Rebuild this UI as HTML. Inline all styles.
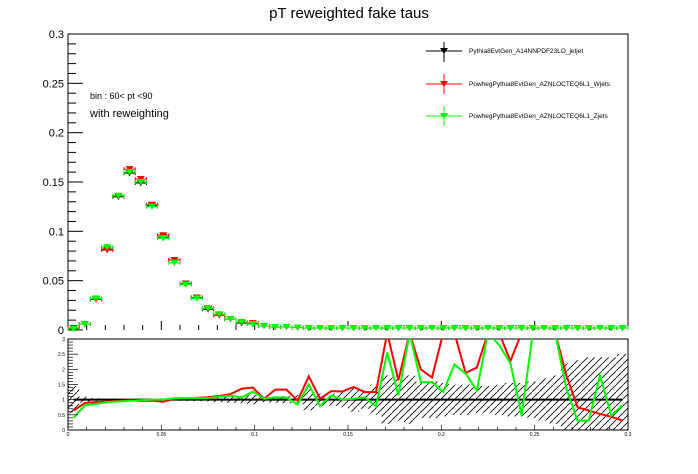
<!DOCTYPE html>
<html><head><meta charset="utf-8"><style>
html,body{margin:0;padding:0;background:#fff;width:698px;height:474px;overflow:hidden}
svg{display:block;font-family:"Liberation Sans",sans-serif}
</style></head><body>
<svg id="c" width="698" height="474" viewBox="0 0 698 474">
<defs><pattern id="hatch" patternUnits="userSpaceOnUse" width="7" height="7"><path d="M0,7 L7,0" stroke="#000" stroke-width="0.8"/></pattern></defs>
<text x="349" y="18" font-size="15" text-anchor="middle">pT reweighted fake taus</text>
<g id="main"></g>
<g id="ratio"></g>
<g>
 <g><line x1="426" y1="51" x2="462" y2="51" stroke="#000"/><line x1="444" y1="42" x2="444" y2="62" stroke="#000"/><path d="M440,48 L448,48 L444,54Z" fill="#000"/><text x="469" y="53" font-size="6.5">Pythia8EvtGen_A14NNPDF23LO_jetjet</text></g>
 <g><line x1="426" y1="84" x2="462" y2="84" stroke="#f00"/><line x1="444" y1="74" x2="444" y2="94" stroke="#f00"/><path d="M440,81 L448,81 L444,87Z" fill="#f00"/><text x="469" y="86" font-size="6.5">PowhegPythia8EvtGen_AZNLOCTEQ6L1_Wjets</text></g>
 <g><line x1="426" y1="116" x2="462" y2="116" stroke="#0f0"/><line x1="444" y1="106" x2="444" y2="126" stroke="#0f0"/><path d="M440,113 L448,113 L444,119Z" fill="#0f0"/><text x="469" y="118" font-size="6.5">PowhegPythia8EvtGen_AZNLOCTEQ6L1_Zjets</text></g>
</g>
<text x="90" y="99" font-size="9">bin : 60&lt; pt &lt;90</text>
<text x="90" y="117" font-size="11">with reweighting</text>
</svg>
<script>
const jetjet=[0.002,0.006,0.031,0.082,0.135,0.159,0.149,0.126,0.094,0.071,0.047,0.033,0.021,0.015,0.011,0.007,0.006,0.004,0.003,0.003,0.0025,0.002,0.002,0.002,0.002,0.002,0.002,0.002,0.002,0.002,0.002,0.002,0.002,0.002,0.002,0.002,0.002,0.002,0.002,0.002,0.002,0.002,0.002,0.002,0.002,0.002,0.002,0.002,0.002,0.002];
const wjetsMain=[0.002,0.006,0.031,0.081,0.136,0.163,0.153,0.127,0.096,0.071,0.047,0.033,0.022,0.015,0.011,0.008,0.007,0.004,0.003,0.003,0.0025,0.002,0.002,0.002,0.002,0.002,0.002,0.002,0.002,0.002,0.002,0.002,0.002,0.002,0.002,0.002,0.002,0.002,0.002,0.002,0.002,0.002,0.002,0.002,0.002,0.002,0.002,0.002,0.002,0.002];
const zjetsMain=[0.001,0.006,0.032,0.084,0.136,0.160,0.150,0.125,0.093,0.068,0.046,0.032,0.022,0.016,0.011,0.008,0.006,0.004,0.003,0.003,0.0025,0.002,0.002,0.002,0.002,0.002,0.002,0.002,0.002,0.002,0.002,0.002,0.002,0.002,0.002,0.002,0.002,0.002,0.002,0.002,0.002,0.002,0.002,0.002,0.002,0.002,0.002,0.002,0.002,0.002];
const wjets=[0.64,0.89,0.92,0.94,0.96,0.98,0.96,0.97,0.93,1.03,1.05,1.06,1.08,1.12,1.18,1.36,1.4,1.03,1.33,1.33,0.97,1.77,1.03,1.28,1.27,1.42,1.25,1.25,3.5,1.64,3.5,2.0,1.73,3.5,3.5,1.88,2.06,3.5,3.5,2.27,3.5,3.5,3.5,3.5,1.8,0.75,0.64,0.53,0.44,0.31];
const zjets=[0.4,0.81,0.86,0.92,0.94,0.96,0.98,1.0,1.0,1.05,1.05,1.05,1.05,1.1,1.13,1.07,1.27,1.03,1.08,1.07,0.84,1.5,0.79,1.14,1.0,1.03,1.08,0.78,2.56,1.14,3.5,1.58,1.58,1.25,2.16,1.86,1.3,3.5,2.8,2.2,0.48,3.5,3.5,3.5,1.36,0.31,0.31,1.8,0.48,0.81];
const bandErr=[0.45,0.1,0.05,0.03,0.02,0.02,0.02,0.02,0.02,0.03,0.04,0.05,0.06,0.08,0.1,0.12,0.15,0.08,0.1,0.12,0.15,0.35,0.2,0.2,0.25,0.4,0.3,0.5,0.8,0.7,0.8,0.6,0.6,0.55,0.5,0.5,0.45,0.45,0.5,0.55,0.55,0.6,0.7,0.8,1.2,1.3,1.4,1.4,1.4,1.5];
const xTicks=["0","0.05","0.1","0.15","0.2","0.25","0.3"];
const yTicks=["0","0.05","0.1","0.15","0.2","0.25","0.3"];
const rTicks=["0","0.5","1","1.5","2","2.5","3"];
const NS='http://www.w3.org/2000/svg';
const X0=68,X1=628,MY0=330,MY1=34,RY0=430,RY1=339,NB=jetjet.length;
const bw=(X1-X0)/NB;
const sx=v=>X0+(v/0.3)*(X1-X0);
const sy=v=>MY0-(v/0.3)*(MY0-MY1);
const ry=v=>RY0-(Math.min(v,3.2)/3)*(RY0-RY1);
function mk(p,t,a){const e=document.createElementNS(NS,t);for(const k in a)e.setAttribute(k,a[k]);p.appendChild(e);return e;}
const mainG=document.getElementById('main'),ratioG=document.getElementById('ratio');
const ax=mk(mainG,'path',{d:`M${X0},${MY1} L${X0},${MY0+1} M${X0},${MY1} L${X1},${MY1} L${X1},${MY0}`,stroke:'#000',fill:'none','stroke-width':1});


for(let i=0;i<=30;i++){const y=sy(i*0.01),len=(i%5==0)?15:8;mk(mainG,'line',{x1:X0,y1:y,x2:X0+len,y2:y,stroke:'#000'});}
yTicks.forEach((t,i)=>{const e=mk(mainG,'text',{x:X0-4,y:sy(i*0.05)+4,'font-size':11,'text-anchor':'end'});e.textContent=t;

});
for(let i=0;i<=30;i++){const x=sx(i*0.01),len=(i%5==0)?9:5;mk(mainG,'line',{x1:x,y1:MY0,x2:x,y2:MY0-len,stroke:'#000'});}
function series(vals,col,name){const g=mk(mainG,'g',{});


vals.forEach((v,i)=>{const cx=X0+(i+0.5)*bw,cy=sy(v);
mk(g,'line',{x1:cx-bw/2,y1:cy,x2:cx+bw/2,y2:cy,stroke:col});
mk(g,'line',{x1:cx-bw/2,y1:cy-2,x2:cx-bw/2,y2:cy+2,stroke:col});
mk(g,'line',{x1:cx+bw/2,y1:cy-2,x2:cx+bw/2,y2:cy+2,stroke:col});
mk(g,'line',{x1:cx,y1:cy-3,x2:cx,y2:cy+3,stroke:col});
const m=mk(g,'path',{d:`M${cx-4},${cy-3} L${cx+4},${cy-3} L${cx},${cy+3}Z`,fill:col});

});}
series(jetjet,'#000','series-jetjet');
series(wjetsMain,'#f00','series-wjets');
series(zjetsMain,'#0f0','series-zjets');
const rf=mk(ratioG,'rect',{x:X0,y:RY1,width:X1-X0,height:RY0-RY1,fill:'none',stroke:'#000'});


const upPts=[],loPts=[];
bandErr.forEach((e,i)=>{const xa=X0+i*bw,xb=xa+bw;upPts.push(`${xa},${ry(1+e)}`,`${xb},${ry(1+e)}`);loPts.unshift(`${xb},${ry(Math.max(1-e,0))}`,`${xa},${ry(Math.max(1-e,0))}`);});
const band=mk(ratioG,'polygon',{points:upPts.concat(loPts).join(' '),fill:'url(#hatch)'});


const cp=mk(ratioG,'clipPath',{id:'rc'});mk(cp,'rect',{x:X0,y:RY1,width:X1-X0,height:RY0-RY1});
const refL=mk(ratioG,'line',{x1:X0+bw/2,y1:ry(1),x2:X1-bw/2,y2:ry(1),stroke:'#000','stroke-width':2});


function rline(vals,col,name){const pts=vals.map((v,i)=>`${X0+(i+0.5)*bw},${ry(v)}`).join(' ');
const l=mk(ratioG,'polyline',{points:pts,fill:'none',stroke:col,'stroke-width':2,'clip-path':'url(#rc)'});

}
rline(wjets,'#f00','ratio-wjets');rline(zjets,'#0f0','ratio-zjets');
for(let i=0;i<=30;i++){const y=ry(i*0.1),len=(i%5==0)?10:5;mk(ratioG,'line',{x1:X0,y1:y,x2:X0+len,y2:y,stroke:'#000','stroke-width':0.7});}
rTicks.forEach((t,i)=>{const e=mk(ratioG,'text',{x:X0-3,y:ry(i*0.5)+2,'font-size':5,'text-anchor':'end'});e.textContent=t;

});
for(let i=0;i<=30;i++){const x=sx(i*0.01),len=(i%5==0)?5:3;mk(ratioG,'line',{x1:x,y1:RY0,x2:x,y2:RY0-len,stroke:'#000','stroke-width':0.7});}
xTicks.forEach((t,i)=>{const e=mk(ratioG,'text',{x:sx(i*0.05),y:RY0+6,'font-size':5,'text-anchor':'middle'});e.textContent=t;

});
</script>
</body></html>
